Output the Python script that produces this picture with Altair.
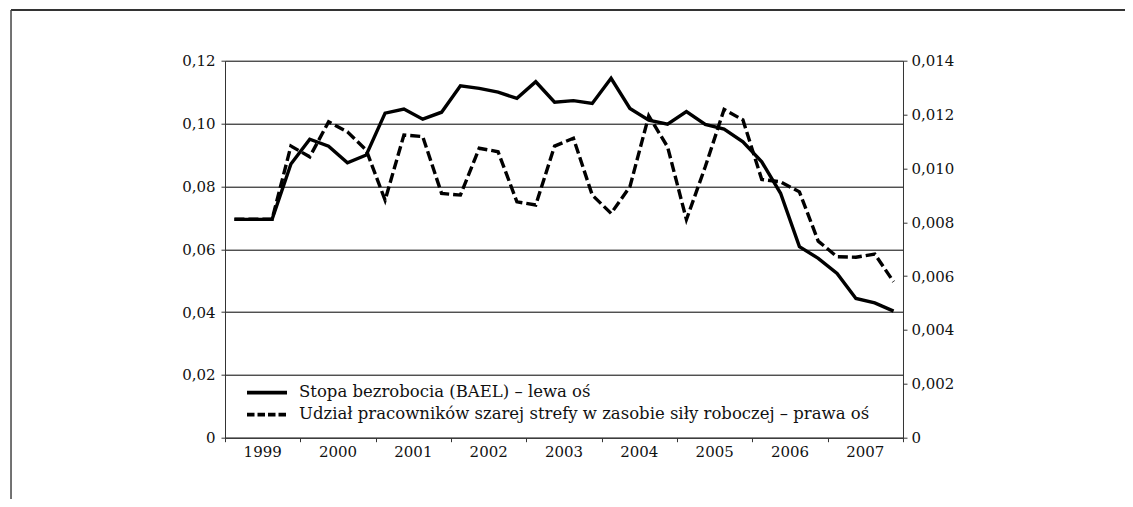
import altair as alt
import pandas as pd

# Quarterly data 1999Q1 - 2007Q4
years = ["1999", "2000", "2001", "2002", "2003", "2004", "2005", "2006", "2007"]

stopa_bezrobocia = [
    0.0695, 0.0695, 0.0695, 0.0871,
    0.0950, 0.0928, 0.0875, 0.0900,
    0.1033, 0.1046, 0.1014, 0.1036,
    0.1120, 0.1112, 0.1100, 0.1080,
    0.1133, 0.1068, 0.1073, 0.1064,
    0.1144, 0.1048, 0.1011, 0.0998,
    0.1038, 0.0997, 0.0982, 0.0942,
    0.0878, 0.0778, 0.0608, 0.0571,
    0.0523, 0.0443, 0.0429, 0.0403,
]

udzial_szarej_strefy = [
    0.00811, 0.00811, 0.00811, 0.01083,
    0.01043, 0.01173, 0.01136, 0.01068,
    0.00882, 0.01124, 0.01118, 0.00907,
    0.00901, 0.01075, 0.01062, 0.00876,
    0.00864, 0.01083, 0.01112, 0.00901,
    0.00833, 0.00932, 0.01195, 0.01080,
    0.00810, 0.01006, 0.01219, 0.01180,
    0.00959, 0.00950, 0.00913, 0.00730,
    0.00672, 0.00670, 0.00682, 0.00579,
]

series_names = [
    "Stopa bezrobocia (BAEL) – lewa oś",
    "Udział pracowników szarej strefy w zasobie siły roboczej – prawa oś",
]

FONT = "DejaVu Serif"
W, H = 678, 377
DASH = [10, 4]
LW = 3.4

q = [i + 0.5 for i in range(len(stopa_bezrobocia))]
df1 = pd.DataFrame({"q": q, "v": stopa_bezrobocia})
df2 = pd.DataFrame({"q": q, "v": udzial_szarej_strefy})
df_years = pd.DataFrame({"year": years, "pos": [4 * k + 2 for k in range(len(years))]})

xscale = alt.Scale(domain=[0, 36], nice=False, zero=False)
xaxis = alt.Axis(values=list(range(0, 37, 4)), labels=False, title=None, grid=False,
                 tickSize=4, tickColor="#333", domainColor="#333")

left_labels = "datum.value == 0 ? '0\u00a0\u00a0' : replace(format(datum.value, '.2f'), '.', ',')"
right_labels = "datum.value == 0 ? '0' : replace(format(datum.value, '.3f'), '.', ',')"

line1 = alt.Chart(df1).mark_line(color="black", strokeWidth=LW).encode(
    x=alt.X("q:Q", scale=xscale, axis=xaxis),
    y=alt.Y("v:Q", scale=alt.Scale(domain=[0, 0.12], nice=False),
            axis=alt.Axis(orient="left", values=[0, 0.02, 0.04, 0.06, 0.08, 0.10, 0.12],
                          labelExpr=left_labels, title=None, grid=True,
                          gridColor="#000", gridOpacity=1, gridWidth=1, tickSize=4,
                          labelPadding=6, tickColor="#333", domainColor="#333")),
)

line2 = alt.Chart(df2).mark_line(color="black", strokeWidth=LW, strokeDash=DASH).encode(
    x=alt.X("q:Q", scale=xscale, axis=xaxis),
    y=alt.Y("v:Q", scale=alt.Scale(domain=[0, 0.014], nice=False),
            axis=alt.Axis(orient="right", values=[0, 0.002, 0.004, 0.006, 0.008, 0.010, 0.012, 0.014],
                          labelExpr=right_labels, title=None, grid=False,
                          tickSize=4, labelPadding=4, tickColor="#333", domainColor="#333")),
)

year_text = alt.Chart(df_years).mark_text(
    font=FONT, fontSize=15, color="#111", baseline="middle", align="center"
).encode(
    x=alt.X("pos:Q", scale=xscale, axis=xaxis),
    y=alt.value(H + 14),
    text="year:N",
)

# manual legend (inside the plot, lower left)
one = alt.Data(values=[{}])
leg1_line = alt.Chart(one).mark_rule(color="black", strokeWidth=3.8).encode(
    x=alt.value(22), x2=alt.value(62), y=alt.value(332))
leg2_line = alt.Chart(one).mark_rule(color="black", strokeWidth=3.8, strokeDash=[7.5, 3]).encode(
    x=alt.value(22), x2=alt.value(62), y=alt.value(354))
leg1_text = alt.Chart(one).mark_text(
    font=FONT, fontSize=16.5, color="#111", align="left", baseline="middle",
    text=series_names[0]).encode(x=alt.value(74), y=alt.value(331))
leg2_text = alt.Chart(one).mark_text(
    font=FONT, fontSize=16.5, color="#111", align="left", baseline="middle",
    text=series_names[1]).encode(x=alt.value(74), y=alt.value(353))

frame_top = alt.Chart(one).mark_rule(color="#333", strokeWidth=2).encode(
    x=alt.value(-214), x2=alt.value(920), y=alt.value(-50.7)
)
frame_left = alt.Chart(one).mark_rule(color="#444", strokeWidth=1.5).encode(
    x=alt.value(-214), y=alt.value(-50.7), y2=alt.value(480)
)

chart = alt.layer(
    line1, line2, year_text, leg1_line, leg2_line, leg1_text, leg2_text, frame_top, frame_left
).resolve_scale(
    y="independent"
).properties(
    width=W, height=H,
    autosize=alt.AutoSizeParams(type="none"),
    padding={"left": 217, "top": 52.7, "right": 222, "bottom": 61},
).configure_view(stroke=None).configure_axis(
    labelFont=FONT, labelFontSize=15, labelColor="#111"
)

chart.save("out.html", embed_options={"renderer": "svg", "actions": False})
